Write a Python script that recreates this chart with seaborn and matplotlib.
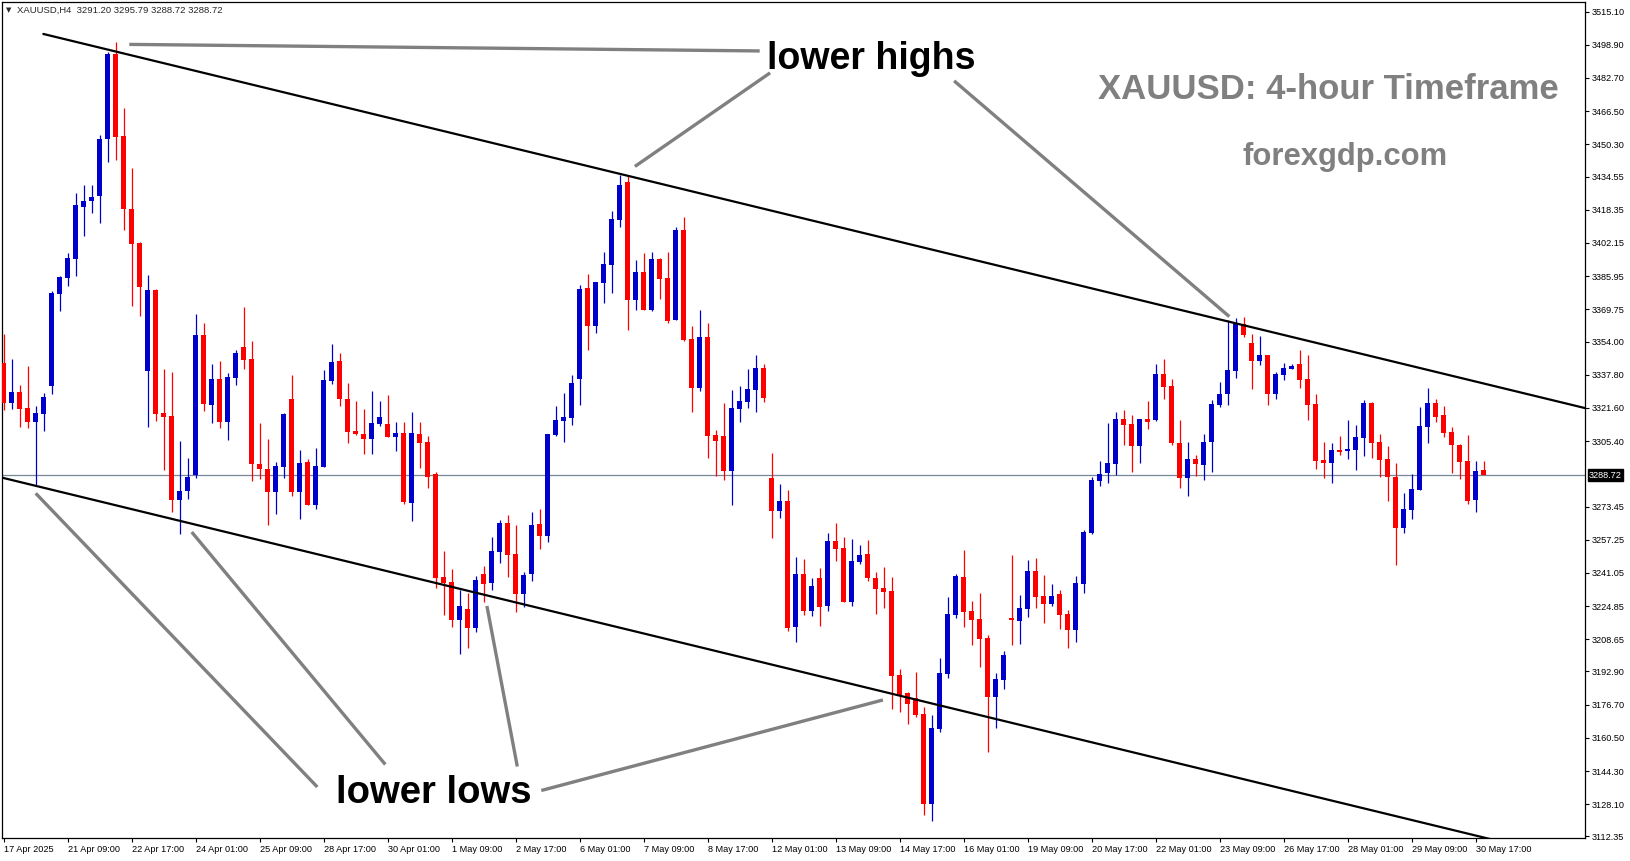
import numpy as np
import pandas as pd
import matplotlib
matplotlib.use("Agg")
import matplotlib.pyplot as plt
import matplotlib.transforms as mtransforms
import seaborn as sns

# XAUUSD H4 candles, 17 Apr 2025 01:00 -> 30 May 2025 21:00
opens = [
    3343.7, 3323.9, 3329.4, 3321.6, 3314.9, 3318.8, 3332.5, 3377.4, 3385.2, 3394.5,
    3419.9, 3422.4, 3425.3, 3452.8, 3494.5, 3454.3, 3418.6, 3402.2, 3339.8, 3379.2,
    3319.0, 3317.7, 3276.8, 3281.2, 3288.7, 3357.2, 3323.2, 3335.8, 3314.9, 3336.4,
    3351.4, 3345.5, 3294.3, 3291.8, 3280.6, 3292.9, 3326.0, 3280.6, 3295.2, 3274.2,
    3292.8, 3334.8, 3344.5, 3326.0, 3310.4, 3308.9, 3306.5, 3313.8, 3313.8, 3307.4,
    3309.4, 3275.2, 3308.9, 3305.0, 3289.4, 3239.1, 3236.6, 3218.1, 3223.4, 3214.2,
    3240.5, 3236.1, 3251.3, 3265.4, 3250.3, 3230.8, 3240.5, 3264.9, 3259.2, 3308.4,
    3315.3, 3316.7, 3335.8, 3380.2, 3361.8, 3382.6, 3391.4, 3413.4, 3431.9, 3374.3,
    3388.0, 3369.5, 3394.4, 3385.1, 3364.6, 3408.5, 3355.3, 3331.4, 3356.3, 3308.4,
    3307.9, 3290.8, 3321.1, 3324.5, 3330.4, 3341.1, 3287.4, 3271.3, 3276.2, 3214.6,
    3240.5, 3222.5, 3238.6, 3224.9, 3256.6, 3253.2, 3226.9, 3246.4, 3250.3, 3238.6,
    3233.7, 3232.2, 3191.2, 3182.4, 3180.0, 3172.2, 3128.2, 3164.8, 3191.7, 3220.5,
    3239.1, 3222.5, 3218.5, 3209.3, 3180.5, 3188.8, 3218.9, 3217.6, 3223.4, 3242.0,
    3229.8, 3225.9, 3230.8, 3221.0, 3213.2, 3235.6, 3260.5, 3285.9, 3289.9, 3294.3,
    3316.2, 3313.8, 3303.0, 3316.2, 3315.7, 3338.2, 3332.3, 3304.5, 3287.4, 3296.7,
    3293.8, 3305.0, 3323.1, 3328.4, 3339.7, 3362.6, 3353.3, 3344.5, 3347.5, 3328.4,
    3337.7, 3340.6, 3343.1, 3335.8, 3323.5, 3296.2, 3294.7, 3301.1, 3300.6, 3301.1,
    3306.9, 3324.0, 3305.0, 3296.7, 3287.9, 3263.0, 3271.8, 3281.6, 3312.3, 3324.0,
    3318.2, 3309.9, 3303.5, 3295.7, 3276.7, 3291.20,
]
highs = [
    3357.7, 3345.4, 3332.7, 3342.1, 3322.6, 3328.8, 3378.7, 3386.1, 3397.1, 3426.4,
    3430.5, 3430.5, 3454.9, 3495.4, 3500.3, 3468.1, 3438.8, 3402.7, 3386.6, 3379.9,
    3340.5, 3339.2, 3305.5, 3297.2, 3367.5, 3362.9, 3343.1, 3344.5, 3338.8, 3349.9,
    3371.1, 3354.3, 3314.1, 3306.3, 3295.2, 3319.0, 3337.7, 3301.1, 3296.7, 3302.1,
    3340.1, 3352.8, 3348.5, 3333.8, 3325.0, 3321.1, 3329.9, 3325.0, 3327.9, 3314.8,
    3314.8, 3319.6, 3314.8, 3307.9, 3290.3, 3251.8, 3243.0, 3232.7, 3231.2, 3239.5,
    3244.4, 3258.6, 3266.9, 3269.3, 3264.5, 3241.5, 3270.8, 3272.3, 3308.9, 3322.6,
    3328.9, 3337.7, 3381.7, 3387.0, 3383.1, 3397.8, 3417.8, 3435.2, 3434.9, 3393.9,
    3397.3, 3397.8, 3394.9, 3397.8, 3410.0, 3414.9, 3361.6, 3369.5, 3363.1, 3310.9,
    3324.0, 3330.4, 3332.3, 3340.6, 3347.5, 3343.1, 3299.6, 3284.5, 3281.6, 3248.8,
    3247.9, 3238.6, 3243.5, 3260.5, 3265.4, 3258.6, 3257.6, 3254.7, 3257.1, 3241.5,
    3243.9, 3239.1, 3194.1, 3182.9, 3192.7, 3175.6, 3171.7, 3199.5, 3229.3, 3240.5,
    3252.2, 3227.3, 3231.2, 3210.7, 3192.2, 3202.9, 3249.8, 3230.3, 3247.4, 3248.3,
    3240.0, 3235.6, 3232.7, 3222.9, 3239.5, 3262.0, 3287.9, 3295.7, 3314.3, 3319.6,
    3320.6, 3318.2, 3316.2, 3325.0, 3343.1, 3345.5, 3335.8, 3315.7, 3305.0, 3298.6,
    3308.9, 3325.5, 3334.3, 3364.6, 3365.5, 3366.0, 3357.5, 3356.8, 3347.5, 3339.2,
    3343.6, 3343.1, 3349.9, 3347.5, 3328.4, 3305.0, 3304.5, 3307.9, 3315.7, 3313.3,
    3325.5, 3324.5, 3308.9, 3303.0, 3294.7, 3280.1, 3289.4, 3322.1, 3331.4, 3326.0,
    3322.6, 3312.3, 3304.0, 3308.4, 3295.7, 3295.79,
]
lows = [
    3320.6, 3320.9, 3312.5, 3311.7, 3284.0, 3310.5, 3328.4, 3369.1, 3381.2, 3386.0,
    3405.6, 3417.0, 3412.1, 3441.9, 3442.7, 3408.5, 3371.4, 3366.5, 3312.5, 3315.4,
    3291.3, 3271.0, 3259.9, 3277.3, 3287.5, 3320.3, 3314.4, 3312.0, 3306.1, 3333.0,
    3340.8, 3286.1, 3287.1, 3264.5, 3269.8, 3287.4, 3278.6, 3267.4, 3274.2, 3272.3,
    3292.8, 3333.3, 3322.6, 3304.5, 3308.4, 3299.1, 3299.1, 3312.8, 3307.4, 3300.6,
    3274.7, 3266.4, 3292.3, 3282.5, 3233.7, 3220.5, 3214.6, 3201.5, 3204.4, 3212.2,
    3226.9, 3232.7, 3245.9, 3239.2, 3222.1, 3224.6, 3237.3, 3252.9, 3256.3, 3307.9,
    3305.0, 3313.3, 3323.1, 3349.9, 3358.2, 3372.9, 3377.7, 3410.0, 3359.7, 3369.5,
    3369.5, 3369.0, 3374.8, 3363.1, 3364.6, 3354.3, 3319.6, 3329.9, 3297.2, 3288.4,
    3286.4, 3274.2, 3314.8, 3321.6, 3319.6, 3324.5, 3258.1, 3267.9, 3212.7, 3207.3,
    3220.5, 3220.0, 3215.1, 3222.5, 3246.9, 3226.9, 3224.9, 3245.4, 3237.1, 3221.0,
    3223.9, 3174.6, 3173.1, 3167.3, 3170.7, 3122.8, 3119.9, 3163.4, 3189.7, 3219.0,
    3214.6, 3205.9, 3195.1, 3153.6, 3165.3, 3184.5, 3205.9, 3206.3, 3219.5, 3223.9,
    3216.6, 3224.9, 3213.7, 3204.4, 3207.3, 3231.2, 3260.1, 3283.5, 3285.0, 3288.9,
    3303.5, 3290.3, 3294.7, 3311.3, 3315.3, 3326.0, 3303.5, 3282.5, 3278.6, 3288.4,
    3286.4, 3290.3, 3322.1, 3323.1, 3336.2, 3356.3, 3330.9, 3342.6, 3323.1, 3326.0,
    3335.3, 3340.6, 3331.4, 3315.7, 3291.8, 3287.4, 3285.0, 3298.6, 3296.7, 3291.3,
    3298.2, 3297.2, 3287.9, 3276.2, 3244.9, 3260.5, 3267.4, 3281.6, 3304.5, 3314.8,
    3307.4, 3289.9, 3286.9, 3274.7, 3270.8, 3288.72,
]
closes = [
    3323.9, 3329.4, 3321.3, 3314.9, 3319.0, 3326.8, 3377.6, 3385.6, 3394.7, 3420.7,
    3422.5, 3424.5, 3452.8, 3494.5, 3454.1, 3418.5, 3401.4, 3380.4, 3379.2, 3318.8,
    3317.4, 3276.8, 3281.1, 3287.7, 3357.2, 3323.7, 3335.8, 3314.9, 3336.7, 3348.5,
    3345.2, 3294.4, 3292.0, 3280.3, 3293.3, 3318.7, 3280.6, 3294.7, 3274.2, 3293.3,
    3335.3, 3344.1, 3326.0, 3309.9, 3308.9, 3306.5, 3314.3, 3317.2, 3307.4, 3309.4,
    3275.7, 3309.4, 3304.5, 3287.9, 3238.6, 3236.1, 3218.1, 3224.9, 3214.2, 3237.6,
    3235.6, 3251.8, 3265.4, 3250.0, 3230.8, 3240.0, 3264.5, 3259.2, 3308.9, 3315.7,
    3317.2, 3333.8, 3379.7, 3361.8, 3383.1, 3391.9, 3413.9, 3430.5, 3374.3, 3388.0,
    3369.5, 3394.4, 3384.6, 3364.1, 3408.5, 3354.8, 3331.4, 3356.3, 3307.9, 3305.5,
    3290.8, 3321.6, 3325.0, 3330.9, 3341.1, 3326.5, 3271.3, 3276.2, 3214.2, 3240.5,
    3222.5, 3234.7, 3224.4, 3256.6, 3252.7, 3226.9, 3246.9, 3249.8, 3238.6, 3233.2,
    3231.7, 3190.7, 3181.4, 3177.0, 3171.7, 3128.2, 3165.3, 3192.2, 3221.0, 3239.5,
    3222.0, 3218.1, 3208.8, 3180.5, 3189.2, 3201.0, 3218.2, 3223.9, 3242.0, 3229.3,
    3225.9, 3229.8, 3220.5, 3213.2, 3236.1, 3261.0, 3286.4, 3289.4, 3294.7, 3316.2,
    3313.3, 3303.0, 3316.2, 3314.8, 3338.2, 3331.8, 3304.5, 3287.4, 3296.7, 3294.3,
    3305.0, 3323.5, 3328.4, 3340.1, 3362.6, 3357.2, 3344.5, 3347.5, 3328.4, 3338.2,
    3341.1, 3342.1, 3335.3, 3323.1, 3295.7, 3294.7, 3301.1, 3300.1, 3301.6, 3307.4,
    3324.0, 3304.5, 3296.2, 3287.9, 3263.0, 3272.3, 3282.0, 3312.8, 3324.0, 3317.2,
    3309.4, 3303.5, 3295.2, 3276.2, 3290.8, 3288.72,
]

x_labels = [
    "17 Apr 2025", "21 Apr 09:00", "22 Apr 17:00", "24 Apr 01:00", "25 Apr 09:00",
    "28 Apr 17:00", "30 Apr 01:00", "1 May 09:00", "2 May 17:00", "6 May 01:00",
    "7 May 09:00", "8 May 17:00", "12 May 01:00", "13 May 09:00", "14 May 17:00",
    "16 May 01:00", "19 May 09:00", "20 May 17:00", "22 May 01:00", "23 May 09:00",
    "26 May 17:00", "28 May 01:00", "29 May 09:00", "30 May 17:00",
]
y_ticks = [
    3515.10, 3498.90, 3482.70, 3466.50, 3450.30, 3434.55, 3418.35, 3402.15,
    3385.95, 3369.75, 3354.00, 3337.80, 3321.60, 3305.40, 3273.45, 3257.25,
    3241.05, 3224.85, 3208.65, 3192.90, 3176.70, 3160.50, 3144.30, 3128.10, 3112.35,
]
last_price = 3288.72
header = "XAUUSD,H4  3291.20 3295.79 3288.72 3288.72"

# channel lines (bar index, price)
upper_x = [4.95, 200.0]
upper_y = [3504.2, 3319.3]
lower_x = [-1.0, 190.0]
lower_y = [3288.3, 3107.1]

# pointer lines for the annotations (bar index, price)
pointers = [
    ((15.7, 3499.1), (94.5, 3495.9)),
    ((95.8, 3485.2), (78.9, 3439.5)),
    ((118.8, 3481.3), (153.2, 3366.2)),
    ((39.2, 3136.5), (4.0, 3279.9)),
    ((47.7, 3147.5), (23.5, 3261.0)),
    ((64.2, 3146.5), (60.4, 3224.9)),
    ((67.2, 3134.8), (109.9, 3179.0)),
]

BLUE = "#0000CC"
RED = "#FF0000"

sns.set_theme(style="white")
plt.rcParams["font.family"] = ["Liberation Sans", "DejaVu Sans"]

df = pd.DataFrame({"open": opens, "high": highs, "low": lows, "close": closes})
df["idx"] = np.arange(len(df))
df["color"] = np.where(df["close"] > df["open"], BLUE, RED)
df["body_lo"] = df[["open", "close"]].min(axis=1)
df["body_h"] = (df["close"] - df["open"]).abs().clip(lower=0.5)

W, H = 1631, 861
fig = plt.figure(figsize=(W / 100, H / 100), dpi=100)
ax = fig.add_axes([2.3 / W, 1 - 838.4 / H, (1585 - 2.3) / W, (838.4 - 2) / H])
ax.set_facecolor("white")

# current price line
ax.axhline(last_price, color="#778899", lw=0.9, zorder=1)

# candles
ax.vlines(df["idx"], df["low"], df["high"], colors=df["color"], lw=0.9, zorder=2)
ax.bar(df["idx"], df["body_h"], bottom=df["body_lo"], width=0.62,
       color=df["color"], linewidth=0, zorder=3)

# channel
sns.lineplot(x=upper_x, y=upper_y, ax=ax, color="black", lw=1.6, zorder=4)
sns.lineplot(x=lower_x, y=lower_y, ax=ax, color="black", lw=1.6, zorder=4)

for (x0, y0), (x1, y1) in pointers:
    ax.plot([x0, x1], [y0, y1], color="#808080", lw=2.4, solid_capstyle="butt", zorder=5)

ax.set_xlim(-0.175, 197.66)
ax.set_ylim(3111.4, 3519.8)

ax.set_xticks(np.arange(len(x_labels)) * 8)
ax.set_xticklabels(x_labels, ha="left")
ax.yaxis.tick_right()
ax.set_yticks(y_ticks)
ax.set_yticklabels([f"{v:.2f}" for v in y_ticks])
ax.tick_params(axis="x", direction="out", length=3, width=0.8, pad=1.5,
               labelsize=6.6, colors="black", bottom=True)
ax.tick_params(axis="y", direction="out", length=3, width=0.8, pad=1.5,
               labelsize=6.6, colors="black", right=True, left=False)
for sp in ax.spines.values():
    sp.set_visible(True)
    sp.set_color("black")
    sp.set_linewidth(0.9)
ax.grid(False)

trans = mtransforms.blended_transform_factory(ax.transAxes, ax.transData)
ax.text(1.0025, last_price, f"{last_price:.2f}", transform=trans, ha="left",
        va="center", color="white", fontsize=6.6, clip_on=False, zorder=10,
        bbox=dict(boxstyle="square,pad=0.15", fc="black", ec="black"))

# header
fig.text(6 / W, 1 - 10.5 / H, "\u25bc", fontsize=5, va="center", ha="left",
         family=["DejaVu Sans"])
fig.text(17 / W, 1 - 10.5 / H, header, fontsize=6.8, va="center", ha="left")

# annotations
fig.text(871 / W, 1 - 68.7 / H, "lower highs", fontsize=27, fontweight="bold",
         color="black", ha="center", va="baseline")
fig.text(434 / W, 1 - 803 / H, "lower lows", fontsize=27.5, fontweight="bold",
         color="black", ha="center", va="baseline")
fig.text(1328 / W, 1 - 98.8 / H, "XAUUSD: 4-hour Timeframe", fontsize=25,
         fontweight="bold", color="#808080", ha="center", va="baseline")
fig.text(1345.5 / W, 1 - 164.5 / H, "forexgdp.com", fontsize=22.3,
         fontweight="bold", color="#808080", ha="center", va="baseline")

fig.savefig("out.png", dpi=100, facecolor="white")
